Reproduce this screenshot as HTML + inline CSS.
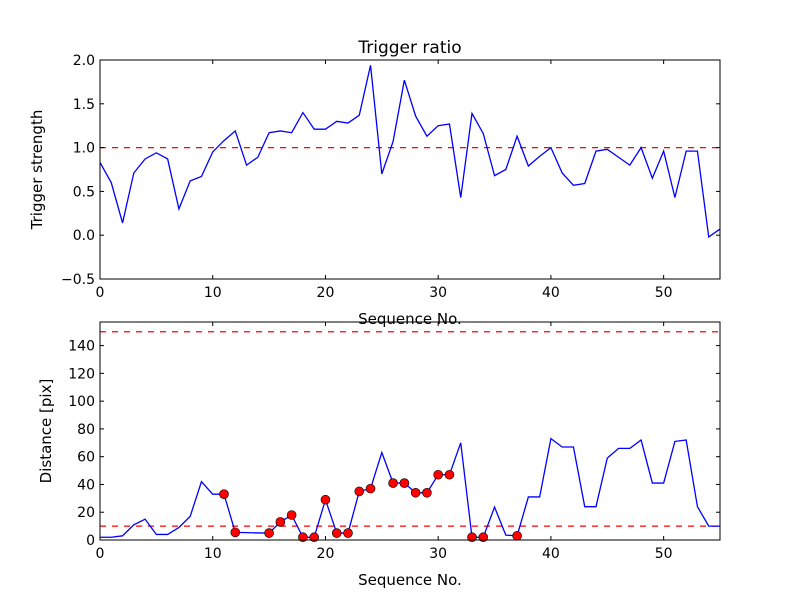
<!DOCTYPE html>
<html><head><meta charset="utf-8"><style>
body{margin:0;background:#fff}
svg{display:block;font-family:"DejaVu Sans","Liberation Sans",sans-serif}
</style></head><body>
<svg id="chart" width="800" height="600">
<rect width="800" height="600" fill="#fff"/>
</svg>
<script>
const seqX = [];
for (let i = 0; i <= 55; i++) seqX.push(i);
const triggerStrength = [0.83,0.6,0.14,0.71,0.87,0.94,0.87,0.3,0.62,0.67,0.95,1.08,1.19,0.8,0.89,1.17,1.19,1.17,1.4,1.21,1.21,1.3,1.28,1.37,1.94,0.7,1.07,1.77,1.36,1.13,1.25,1.27,0.43,1.39,1.16,0.68,0.75,1.13,0.79,0.9,1.0,0.71,0.57,0.59,0.96,0.98,0.89,0.8,1.0,0.65,0.96,0.43,0.96,0.96,-0.02,0.07];
const distance = [2,2,3,11,15,4,4,9,17,42,33,33,5.5,5.3,5.1,5,13,18,2,2,29,5,5,35,37,63,41,41,34,34,47,47,70,2,2,23.7,3.5,3,31,31,73,67,67,24,24,59,66,66,72,41,41,71,72,24,10,10];
const markedIdx = [11,12,15,16,17,18,19,20,21,22,23,24,26,27,28,29,30,31,33,34,37];
const xTicks = [0,10,20,30,40,50];
const topYTicks = [-0.5,0.0,0.5,1.0,1.5,2.0];
const botYTicks = [0,20,40,60,80,100,120,140];
const triggerThreshold = 1.0;
const distThresholds = [10,150];

const NS = "http://www.w3.org/2000/svg";
const svg = document.getElementById('chart');
function el(tag, attrs, parent) {
  const e = document.createElementNS(NS, tag);
  for (const k in attrs) e.setAttribute(k, attrs[k]);
  (parent || svg).appendChild(e);
  return e;
}
function drawAxes(cfg) {
  const L = 100, R = 720;
  const xs = v => L + (v - 0) / 55 * (R - L);
  const ys = v => cfg.bottom - (v - cfg.ymin) / (cfg.ymax - cfg.ymin) * (cfg.bottom - cfg.top);
  const g = el('g', {});
  
  
  // threshold lines
  cfg.thresholds.forEach(t => {
    const l = el('line', {x1: L, x2: R, y1: ys(t), y2: ys(t), stroke: '#ff0000', 'stroke-width': 1.2, 'stroke-dasharray': '6,6'}, g);
    
    
  });
  // series
  const pts = cfg.values.map((v, i) => xs(seqX[i]).toFixed(2) + ',' + ys(v).toFixed(2)).join(' ');
  const pl = el('polyline', {points: pts, fill: 'none', stroke: '#0000ff', 'stroke-width': 1.3}, g);
  
  
  (cfg.markers || []).forEach(i => {
    const c = el('circle', {cx: xs(seqX[i]), cy: ys(cfg.values[i]), r: 4.5, fill: '#ff0000', stroke: '#000', 'stroke-width': 0.6}, g);
    
    
  });
  // frame
  const fr = el('rect', {x: L, y: cfg.top, width: R - L, height: cfg.bottom - cfg.top, fill: 'none', stroke: '#000', 'stroke-width': 1}, g);
  
  
  xTicks.forEach(t => {
    const x = xs(t);
    el('line', {x1: x, x2: x, y1: cfg.bottom, y2: cfg.bottom - 4, stroke: '#000'}, g);
    el('line', {x1: x, x2: x, y1: cfg.top, y2: cfg.top + 4, stroke: '#000'}, g);
    const tx = el('text', {x: x, y: cfg.bottom + 18, 'text-anchor': 'middle', 'font-size': 14}, g);
    tx.textContent = t;
    
    
  });
  cfg.yTicks.forEach(t => {
    const y = ys(t);
    el('line', {x1: L, x2: L + 4, y1: y, y2: y, stroke: '#000'}, g);
    el('line', {x1: R, x2: R - 4, y1: y, y2: y, stroke: '#000'}, g);
    const tx = el('text', {x: L - 5, y: y + 5, 'text-anchor': 'end', 'font-size': 14}, g);
    tx.textContent = cfg.fmt(t);
    
    
  });
  const xl = el('text', {x: (L + R) / 2, y: cfg.bottom + 45, 'text-anchor': 'middle', 'font-size': 15}, g);
  xl.textContent = 'Sequence No.';
  
  
  const cy = (cfg.top + cfg.bottom) / 2;
  const yl = el('text', {x: cfg.ylabelX, y: cy, 'text-anchor': 'middle', 'font-size': 15, transform: `rotate(-90 ${cfg.ylabelX} ${cy})`}, g);
  yl.textContent = cfg.ylabel;
  
  
}
drawAxes({name: 'trigger-plot', seriesName: 'trigger-strength-line', top: 60, bottom: 279, ymin: -0.5, ymax: 2.0,
  values: triggerStrength, yTicks: topYTicks, thresholds: [triggerThreshold], fmt: t => (t < 0 ? '\u2212' : '') + Math.abs(t).toFixed(1),
  ylabel: 'Trigger strength', ylabelX: 42});
drawAxes({name: 'distance-plot', seriesName: 'distance-line', top: 322, bottom: 540, ymin: 0, ymax: 157,
  values: distance, markers: markedIdx, yTicks: botYTicks, thresholds: distThresholds, fmt: t => String(t),
  ylabel: 'Distance [pix]', ylabelX: 51});
const title = el('text', {x: 410, y: 53, 'text-anchor': 'middle', 'font-size': 17});
title.textContent = 'Trigger ratio';


</script>
</body></html>
